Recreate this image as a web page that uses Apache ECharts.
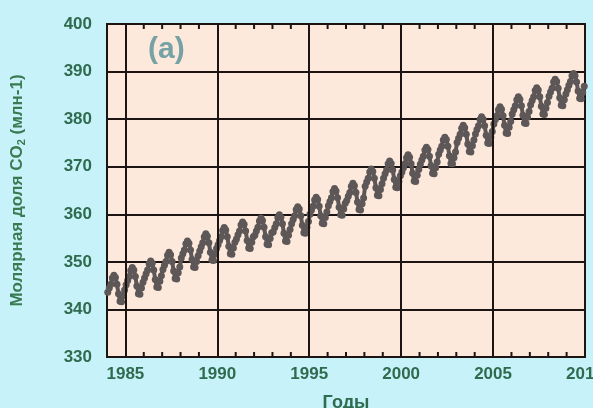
<!DOCTYPE html>
<html>
<head>
<meta charset="utf-8">
<script src="https://cdn.jsdelivr.net/npm/echarts@6/dist/echarts.min.js"></script>
<style>
  html, body { margin: 0; padding: 0; background: #c8f2f9; }
  #chart { width: 593px; height: 408px; }
</style>
</head>
<body>
<div id="chart"></div>
<script>
// годы и месячные значения CO2 (млн-1)
var years = [1984, 1985, 1986, 1987, 1988, 1989, 1990, 1991, 1992, 1993, 1994, 1995, 1996,
  1997, 1998, 1999, 2000, 2001, 2002, 2003, 2004, 2005, 2006, 2007, 2008, 2009];
var co2 = [
  [343.6, 344.5, 345.3, 346.6, 347.2, 346.7, 345.3, 343.3, 341.7, 341.6, 342.9, 344.1],
  [345.2, 346.1, 346.9, 348.2, 348.8, 348.3, 346.9, 344.9, 343.3, 343.2, 344.5, 345.7],
  [346.6, 347.5, 348.3, 349.6, 350.2, 349.7, 348.3, 346.3, 344.7, 344.6, 345.9, 347.1],
  [348.4, 349.3, 350.1, 351.4, 352.0, 351.5, 350.1, 348.1, 346.5, 346.4, 347.7, 348.9],
  [350.8, 351.7, 352.5, 353.8, 354.4, 353.9, 352.5, 350.5, 348.9, 348.8, 350.1, 351.3],
  [352.3, 353.2, 354.0, 355.3, 355.9, 355.4, 354.0, 352.0, 350.4, 350.3, 351.6, 352.8],
  [353.6, 354.5, 355.3, 356.6, 357.2, 356.7, 355.3, 353.3, 351.7, 351.6, 352.9, 354.1],
  [354.8, 355.7, 356.5, 357.8, 358.4, 357.9, 356.5, 354.5, 352.9, 352.8, 354.1, 355.3],
  [355.6, 356.5, 357.3, 358.6, 359.2, 358.7, 357.3, 355.3, 353.7, 353.6, 354.9, 356.1],
  [356.3, 357.2, 358.0, 359.3, 359.9, 359.4, 358.0, 356.0, 354.4, 354.3, 355.6, 356.8],
  [358.0, 358.9, 359.7, 361.0, 361.6, 361.1, 359.7, 357.7, 356.1, 356.0, 357.3, 358.5],
  [360.0, 360.9, 361.7, 363.0, 363.6, 363.1, 361.7, 359.7, 358.1, 358.0, 359.3, 360.5],
  [361.8, 362.7, 363.5, 364.8, 365.4, 364.9, 363.5, 361.5, 359.9, 359.8, 361.1, 362.3],
  [362.9, 363.8, 364.6, 365.9, 366.5, 366.0, 364.6, 362.6, 361.0, 360.9, 362.2, 363.4],
  [365.9, 366.8, 367.6, 368.9, 369.5, 369.0, 367.6, 365.6, 364.0, 363.9, 365.2, 366.4],
  [367.6, 368.5, 369.3, 370.6, 371.2, 370.7, 369.3, 367.3, 365.7, 365.6, 366.9, 368.1],
  [368.9, 369.8, 370.6, 371.9, 372.5, 372.0, 370.6, 368.6, 367.0, 366.9, 368.2, 369.4],
  [370.5, 371.4, 372.2, 373.5, 374.1, 373.6, 372.2, 370.2, 368.6, 368.5, 369.8, 371.0],
  [372.6, 373.5, 374.3, 375.6, 376.2, 375.7, 374.3, 372.3, 370.7, 370.6, 371.9, 373.1],
  [375.1, 376.0, 376.8, 378.1, 378.7, 378.2, 376.8, 374.8, 373.2, 373.1, 374.4, 375.6],
  [376.9, 377.8, 378.6, 379.9, 380.5, 380.0, 378.6, 376.6, 375.0, 374.9, 376.2, 377.4],
  [379.0, 379.9, 380.7, 382.0, 382.6, 382.1, 380.7, 378.7, 377.1, 377.0, 378.3, 379.5],
  [381.1, 382.0, 382.8, 384.1, 384.7, 384.2, 382.8, 380.8, 379.2, 379.1, 380.4, 381.6],
  [383.0, 383.9, 384.7, 386.0, 386.6, 386.1, 384.7, 382.7, 381.1, 381.0, 382.3, 383.5],
  [384.8, 385.7, 386.5, 387.8, 388.4, 387.9, 386.5, 384.5, 382.9, 382.8, 384.1, 385.3],
  [386.2, 387.1, 387.9, 389.1, 389.6, 389.1, 387.8, 385.9, 384.4, 384.3, 385.6, 386.9]
];
var xLabels = [1985, 1990, 1995, 2000, 2005, 2010];
var xGrid = [1985, 1990, 1995, 2000, 2005];
var xTicks = [1986, 1987, 1988, 1989, 1991, 1992, 1993, 1994, 1996, 1997, 1998, 1999,
  2001, 2002, 2003, 2004, 2006, 2007, 2008, 2009];

var points = [];
years.forEach(function (y, i) {
  co2[i].forEach(function (v, m) {
    points.push([y + (m + 0.5) / 12, v]);
  });
});

var labelColor = '#2f6b4f';
var lineBlack = '#1c1412';
var font = '"Liberation Sans", Arial, sans-serif';
var yMin = 330, yMax = 400;

// мелкие риски по годам снизу и сверху рамки
function renderTick(params, api) {
  var x = api.value(0);
  var b = api.coord([x, yMin]);
  var t = api.coord([x, yMax]);
  var st = { stroke: lineBlack, lineWidth: 2 };
  return {
    type: 'group',
    children: [
      { type: 'line', shape: { x1: b[0], y1: b[1], x2: b[0], y2: b[1] - 5 }, style: st },
      { type: 'line', shape: { x1: t[0], y1: t[1], x2: t[0], y2: t[1] + 5 }, style: st }
    ]
  };
}

var chart = echarts.init(document.getElementById('chart'));
chart.setOption({
  backgroundColor: '#c8f2f9',
  animation: false,
  grid: {
    left: 107, right: 8, top: 24, bottom: 51,
    outerBoundsMode: 'none',
    show: true, backgroundColor: '#fde9dc',
    borderColor: lineBlack, borderWidth: 2
  },
  graphic: [{
    type: 'text', left: 148, top: 35, z: 100,
    style: { text: '(a)', fill: '#76a2a5', font: '600 30px ' + font }
  }],
  xAxis: {
    type: 'value', min: 1984, max: 2010,
    name: 'Годы', nameLocation: 'middle', nameGap: 37,
    nameTextStyle: { color: labelColor, fontSize: 18, fontWeight: 'bold', fontFamily: font },
    axisLine: { show: true, onZero: false, lineStyle: { color: lineBlack, width: 2 } },
    axisTick: { show: false },
    axisLabel: {
      customValues: xLabels, color: labelColor, fontSize: 17, fontWeight: 'bold', fontFamily: font, margin: 9,
      formatter: function (v) { return String(v); }
    },
    splitLine: { show: false }
  },
  yAxis: {
    type: 'value', min: yMin, max: yMax, interval: 10,
    name: 'Молярная доля CO{sub|2} (млн-1)', nameLocation: 'middle', nameGap: 80,
    nameTextStyle: {
      color: '#3a7a52', fontSize: 17, fontWeight: 'bold', fontFamily: font,
      rich: { sub: { fontSize: 11, fontWeight: 'bold', color: '#3a7a52', fontFamily: font, padding: [8, 0, 0, 0] } }
    },
    axisLine: { show: true, lineStyle: { color: lineBlack, width: 2 } },
    axisTick: { show: false },
    axisLabel: { color: labelColor, fontSize: 17, fontWeight: 'bold', fontFamily: font, margin: 15 },
    splitLine: { show: true, lineStyle: { color: lineBlack, width: 2 } }
  },
  series: [{
    // вертикальная сетка через 5 лет (сам ряд невидим)
    type: 'line', data: points.slice(), showSymbol: false, silent: true,
    lineStyle: { opacity: 0 }, z: 1,
    markLine: {
      silent: true, symbol: 'none', label: { show: false },
      lineStyle: { color: lineBlack, width: 2, type: 'solid' },
      data: xGrid.map(function (v) { return { xAxis: v }; })
    }
  }, {
    type: 'custom',
    data: xTicks.map(function (v) { return [v, yMin]; }),
    renderItem: renderTick,
    silent: true,
    clip: false,
    z: 2
  }, {
    type: 'line',
    data: points,
    showSymbol: true,
    symbol: 'circle',
    symbolSize: 7,
    itemStyle: { color: '#5d5758' },
    lineStyle: { color: '#5d5758', width: 4 },
    z: 3
  }]
});
</script>
</body>
</html>
